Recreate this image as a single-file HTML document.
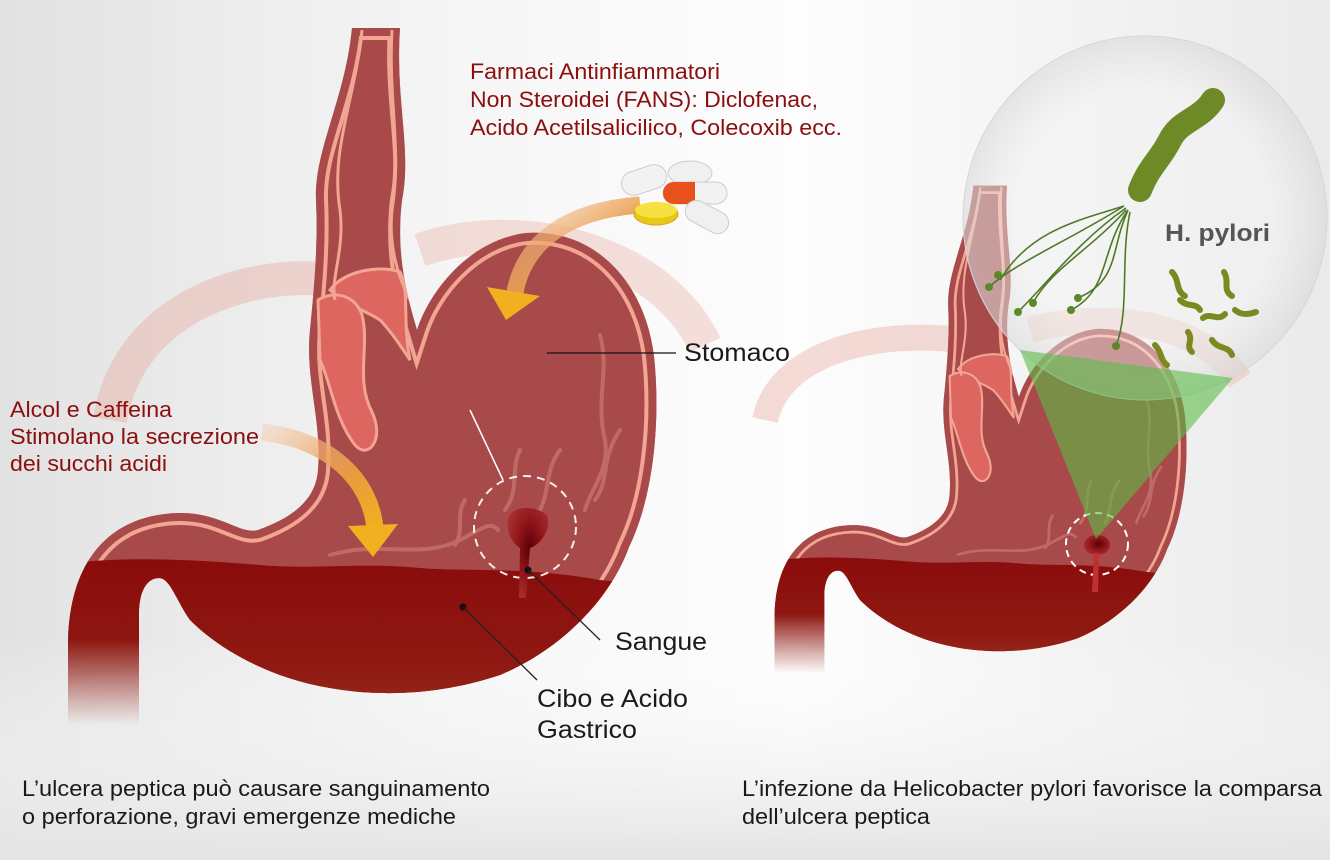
<!DOCTYPE html>
<html><head><meta charset="utf-8"><style>
html,body{margin:0;padding:0;}
body{width:1330px;height:860px;overflow:hidden;background:#fff;}
svg{display:block;}
text{font-family:"Liberation Sans",sans-serif;}
</style></head><body>
<svg width="1330" height="860" viewBox="0 0 1330 860" xmlns="http://www.w3.org/2000/svg">
<defs>
<linearGradient id="bg" x1="0" y1="0" x2="1" y2="0">
<stop offset="0" stop-color="#e2e2e2"/><stop offset="0.35" stop-color="#f6f6f6"/><stop offset="0.6" stop-color="#fdfdfd"/><stop offset="1" stop-color="#eaeaea"/>
</linearGradient>
<linearGradient id="floor" x1="0" y1="0" x2="0" y2="1">
<stop offset="0" stop-color="#fff" stop-opacity="0"/><stop offset="1" stop-color="#e4e4e4"/>
</linearGradient>
<linearGradient id="blood" x1="0" y1="0" x2="0" y2="1">
<stop offset="0" stop-color="#8a0c0c"/><stop offset="0.5" stop-color="#8f1a12"/><stop offset="1" stop-color="#a8432e"/>
</linearGradient>
<linearGradient id="mfade" x1="0" y1="0" x2="0" y2="1">
<stop offset="0" stop-color="#fff"/><stop offset="1" stop-color="#000"/>
</linearGradient>
<mask id="mk" maskUnits="userSpaceOnUse" x="0" y="0" width="800" height="900">
<rect x="0" y="0" width="800" height="900" fill="#fff"/>
<rect x="30" y="640" width="170" height="200" fill="#000"/>
<rect x="30" y="640" width="170" height="85" fill="url(#mfade)"/>
</mask>
<linearGradient id="arr1" x1="0" y1="0" x2="1" y2="1">
<stop offset="0" stop-color="#f6c8a8" stop-opacity="0.4"/><stop offset="0.6" stop-color="#e89a40"/><stop offset="1" stop-color="#f0b020"/>
</linearGradient>
<radialGradient id="ulcer" cx="0.55" cy="0.45" r="0.6">
<stop offset="0" stop-color="#5a0008"/><stop offset="0.5" stop-color="#8e1418"/><stop offset="1" stop-color="#a83030"/>
</radialGradient>
<radialGradient id="bub" cx="0.5" cy="0.5" r="0.5">
<stop offset="0.7" stop-color="#f4f4f4" stop-opacity="0.45"/><stop offset="1" stop-color="#d8d8d8" stop-opacity="0.6"/>
</radialGradient>
<path id="shape" d="M352,28 L400,28 C395,100 412,150 402,200 C396,250 405,290 417,330 C430,290 470,240 526,233 C600,228 650,290 655,367 C660,430 652,500 629,547 C610,600 560,650 500,675 C440,695 380,697 330,688 C270,678 220,650 190,620 C176,600 170,578 159,578 C145,578 139,595 139,613 L139,760 L68,760 L68,647 C68,560 110,515 178,513 C220,512 240,535 258,530 C292,518 316,500 318,470 C322,420 305,380 310,330 C315,280 318,240 316,200 C314,150 345,100 352,28 Z"/>
<clipPath id="cp"><use href="#shape"/></clipPath>
<g id="stom">
<g mask="url(#mk)">
<use href="#shape" fill="#a84a4a"/>
<g clip-path="url(#cp)">
<use href="#shape" fill="none" stroke="#f2a593" stroke-width="24"/>
<use href="#shape" fill="none" stroke="#a84a4a" stroke-width="16"/>
<path d="M60,565 C120,555 200,560 260,565 C320,570 360,562 420,568 C470,572 520,566 600,580 L700,590 L700,780 L40,780 Z" fill="url(#blood)"/>
<g fill="none" stroke="#d88a80" stroke-width="4" opacity="0.5" stroke-linecap="round">
<path d="M330,555 C380,540 420,560 460,540 C480,530 490,520 498,530"/>
<path d="M600,335 C610,370 595,400 605,440 C610,470 590,490 585,510"/>
<path d="M560,450 C545,470 550,490 540,510"/>
<path d="M620,430 C600,460 610,480 595,500"/>
<path d="M520,450 C510,470 520,490 505,510"/>
<path d="M465,500 C455,515 465,530 455,545"/>
</g>
<path d="M330,290 C345,270 380,265 400,272 C410,290 402,320 410,360 C400,345 390,330 380,320 C365,310 345,305 330,290 Z" fill="#dd6660" stroke="#f2a593" stroke-width="3"/>
<path d="M318,300 C335,290 355,295 362,315 C370,345 355,380 372,412 C385,440 368,460 355,445 C335,420 330,380 320,360 Z" fill="#dd6660" stroke="#f2a593" stroke-width="3"/>
<path d="M362,30 C355,100 330,150 340,210 C345,250 330,280 335,300" fill="none" stroke="#f2a593" stroke-width="3"/>
<path d="M392,30 C388,100 402,150 392,210 C388,250 400,280 410,300" fill="none" stroke="#f2a593" stroke-width="3"/>
</g>
</g>
</g>
</defs>
<rect width="1330" height="860" fill="url(#bg)"/>
<rect y="640" width="1330" height="220" fill="url(#floor)"/>
<path d="M110,420 C130,300 260,270 330,280" fill="none" stroke="#e8a89c" stroke-width="34" opacity="0.4"/>
<path d="M420,250 C520,215 660,250 705,345" fill="none" stroke="#e8a89c" stroke-width="34" opacity="0.35"/>
<path d="M765,420 C780,350 880,330 960,340" fill="none" stroke="#e8a89c" stroke-width="26" opacity="0.4"/>
<path d="M1030,330 C1100,310 1200,320 1240,380" fill="none" stroke="#e8a89c" stroke-width="26" opacity="0.35"/>
<use href="#stom"/>
<g transform="translate(727,166) scale(0.7)"><use href="#stom"/></g>
<circle cx="525" cy="527" r="51" fill="none" stroke="#fff" stroke-width="2" stroke-dasharray="8,6" opacity="0.9"/>
<path d="M508,520 C510,505 535,505 547,515 C552,530 540,545 530,548 L526,598 L519,598 L520,548 C512,543 506,532 508,520 Z" fill="url(#ulcer)"/>
<line x1="470" y1="410" x2="503" y2="480" stroke="#fff" stroke-width="1.5"/>
<line x1="547" y1="353" x2="676" y2="353" stroke="#111" stroke-width="1.3"/>
<circle cx="528" cy="570" r="3.5" fill="#111"/><line x1="528" y1="570" x2="600" y2="640" stroke="#222" stroke-width="1.3"/>
<circle cx="463" cy="607" r="3.5" fill="#111"/><line x1="463" y1="607" x2="537" y2="680" stroke="#222" stroke-width="1.3"/>
<path d="M640,205 C570,210 525,240 515,292" fill="none" stroke="url(#arr1)" stroke-width="17"/>
<polygon points="487,287 540,296 506,320" fill="#f0b020"/>
<path d="M262,432 C330,440 370,480 375,528" fill="none" stroke="url(#arr1)" stroke-width="17"/>
<polygon points="348,526 398,524 373,557" fill="#f0b020"/>
<g>
<rect x="621" y="168" width="46" height="24" rx="12" transform="rotate(-18 644 180)" fill="#f2f2f2" stroke="#ccc"/>
<ellipse cx="690" cy="173" rx="22" ry="12" fill="#f0f0f0" stroke="#ccc"/>
<rect x="663" y="182" width="64" height="22" rx="11" fill="#f2f2f2" stroke="#ccc"/>
<path d="M674,182 L695,182 L695,204 L674,204 A11,11 0 0 1 674,182 Z" fill="#e8501c"/>
<ellipse cx="656" cy="214" rx="22" ry="11" fill="#e8c818" stroke="#d0a810"/>
<ellipse cx="656" cy="210" rx="21" ry="8" fill="#f8e040"/>
<rect x="684" y="206" width="46" height="22" rx="11" transform="rotate(28 707 217)" fill="#f0f0f0" stroke="#ccc"/>
</g>
<circle cx="1097" cy="544" r="31" fill="none" stroke="#fff" stroke-width="2" stroke-dasharray="7,5"/>
<ellipse cx="1097" cy="545" rx="13" ry="10" fill="url(#ulcer)"/>
<path d="M1094,553 L1092,592 L1098,592 L1099,553 Z" fill="#c03030"/>
<circle cx="1145" cy="218" r="182" fill="url(#bub)" stroke="#d6d6d6" stroke-width="1"/>
<polygon points="1020,350 1233,378 1096,539" fill="#5cbc48" opacity="0.6"/>
<g fill="none" stroke="#4e7a28" stroke-width="1.6">
<path d="M1124,206 C1080,220 1030,230 1000,280"/>
<path d="M1124,206 C1070,240 1020,260 989,287"/>
<path d="M1126,208 C1080,240 1050,280 1018,312"/>
<path d="M1126,210 C1090,250 1050,270 1033,303"/>
<path d="M1128,210 C1100,250 1110,290 1071,310"/>
<path d="M1128,210 C1110,250 1120,280 1078,298"/>
<path d="M1130,212 C1120,260 1130,310 1116,346"/>
</g>
<g fill="#5a8a28">
<circle cx="998" cy="275" r="4"/><circle cx="989" cy="287" r="4"/><circle cx="1018" cy="312" r="4"/><circle cx="1033" cy="303" r="4"/><circle cx="1071" cy="310" r="4"/><circle cx="1078" cy="298" r="4"/><circle cx="1116" cy="346" r="4"/>
</g>
<path d="M1213,100 C1200,120 1180,120 1170,140 C1160,160 1150,165 1140,190" fill="none" stroke="#6e8a26" stroke-width="24" stroke-linecap="round"/>
<g fill="none" stroke="#7a8a20" stroke-width="6" stroke-linecap="round">
<path d="M1172,272 C1180,280 1175,290 1185,296"/><path d="M1224,272 C1230,282 1222,290 1232,296"/>
<path d="M1180,300 C1188,308 1195,302 1200,310"/><path d="M1203,318 C1210,312 1218,322 1225,314"/>
<path d="M1235,310 C1242,316 1250,314 1256,312"/><path d="M1188,332 C1194,340 1185,346 1192,352"/>
<path d="M1212,340 C1218,350 1228,345 1232,355"/><path d="M1155,345 C1162,352 1160,360 1167,365"/>
</g>
<g fill="#8b0f0f" font-size="22">
<text x="470" y="79" textLength="250" lengthAdjust="spacingAndGlyphs">Farmaci Antinfiammatori</text>
<text x="470" y="107" textLength="348" lengthAdjust="spacingAndGlyphs">Non Steroidei (FANS): Diclofenac,</text>
<text x="470" y="135" textLength="372" lengthAdjust="spacingAndGlyphs">Acido Acetilsalicilico, Colecoxib ecc.</text>
<text x="10" y="417" textLength="162" lengthAdjust="spacingAndGlyphs">Alcol e Caffeina</text>
<text x="10" y="444" textLength="249" lengthAdjust="spacingAndGlyphs">Stimolano la secrezione</text>
<text x="10" y="471" textLength="157" lengthAdjust="spacingAndGlyphs">dei succhi acidi</text>
</g>
<g fill="#1a1a1a" font-size="25">
<text x="684" y="361" textLength="106" lengthAdjust="spacingAndGlyphs">Stomaco</text>
<text x="615" y="650" textLength="92" lengthAdjust="spacingAndGlyphs">Sangue</text>
<text x="537" y="707" textLength="151" lengthAdjust="spacingAndGlyphs">Cibo e Acido</text>
<text x="537" y="738" textLength="100" lengthAdjust="spacingAndGlyphs">Gastrico</text>
</g>
<text x="1165" y="241" font-size="24" font-weight="bold" fill="#555" textLength="105" lengthAdjust="spacingAndGlyphs">H. pylori</text>
<g fill="#1a1a1a" font-size="22">
<text x="22" y="796" textLength="468" lengthAdjust="spacingAndGlyphs">L’ulcera peptica può causare sanguinamento</text>
<text x="22" y="824" textLength="434" lengthAdjust="spacingAndGlyphs">o perforazione, gravi emergenze mediche</text>
<text x="742" y="796" textLength="580" lengthAdjust="spacingAndGlyphs">L’infezione da Helicobacter pylori favorisce la comparsa</text>
<text x="742" y="824" textLength="188" lengthAdjust="spacingAndGlyphs">dell’ulcera peptica</text>
</g>
</svg>
</body></html>
